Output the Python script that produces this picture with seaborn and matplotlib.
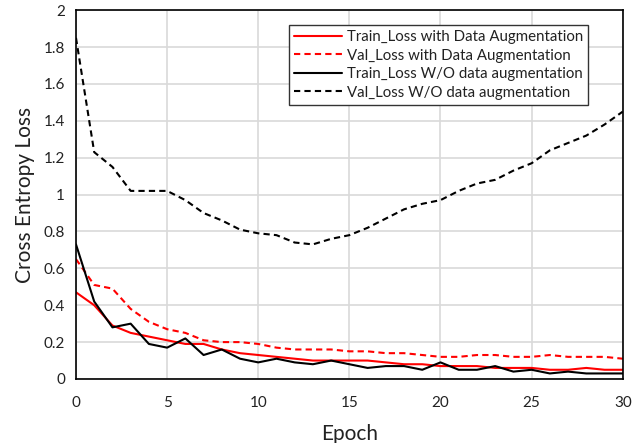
import numpy as np
import pandas as pd
import matplotlib
matplotlib.use("Agg")
import matplotlib.pyplot as plt
import seaborn as sns

epochs = list(range(31))
train_da = [0.47, 0.40, 0.29, 0.25, 0.23, 0.21, 0.19, 0.19, 0.16, 0.14, 0.13,
            0.12, 0.11, 0.10, 0.10, 0.10, 0.10, 0.09, 0.08, 0.08, 0.07,
            0.07, 0.07, 0.06, 0.06, 0.06, 0.05, 0.05, 0.06, 0.05, 0.05]
val_da = [0.65, 0.51, 0.49, 0.38, 0.31, 0.27, 0.25, 0.21, 0.20, 0.20, 0.19,
          0.17, 0.16, 0.16, 0.16, 0.15, 0.15, 0.14, 0.14, 0.13, 0.12,
          0.12, 0.13, 0.13, 0.12, 0.12, 0.13, 0.12, 0.12, 0.12, 0.11]
train_wo = [0.73, 0.42, 0.28, 0.30, 0.19, 0.17, 0.22, 0.13, 0.16, 0.11, 0.09,
            0.11, 0.09, 0.08, 0.10, 0.08, 0.06, 0.07, 0.07, 0.05, 0.09,
            0.05, 0.05, 0.07, 0.04, 0.05, 0.03, 0.04, 0.03, 0.03, 0.03]
val_wo = [1.85, 1.23, 1.15, 1.02, 1.02, 1.02, 0.97, 0.90, 0.86, 0.81, 0.79,
          0.78, 0.74, 0.73, 0.76, 0.78, 0.82, 0.87, 0.92, 0.95, 0.97,
          1.02, 1.06, 1.08, 1.13, 1.17, 1.24, 1.28, 1.32, 1.38, 1.45]

labels = ["Train_Loss with Data Augmentation", "Val_Loss with Data Augmentation",
          "Train_Loss W/O data augmentation", "Val_Loss W/O data augmentation"]
series = [train_da, val_da, train_wo, val_wo]
colors = ["#ff0000", "#ff0000", "#000000", "#000000"]
styles = ["-", (0, (3, 2)), "-", (0, (3, 2))]

sns.set_theme(style="whitegrid")
plt.rcParams['font.family'] = ['Lato', 'DejaVu Sans']

fig = plt.figure(figsize=(6.44, 4.43), dpi=100)
ax = fig.add_axes([0.118, 0.1445, 0.849, 0.8325])

for lab, vals, c, ls in zip(labels, series, colors, styles):
    df = pd.DataFrame({"Epoch": epochs, "Loss": vals})
    sns.lineplot(data=df, x="Epoch", y="Loss", ax=ax, color=c, linestyle=ls,
                 linewidth=1.5, label=lab)

ax.set_xlim(0, 30)
ax.set_ylim(0, 2)
ax.set_xticks(range(0, 31, 5))
yt = [i * 0.2 for i in range(11)]
ax.set_yticks(yt)
ax.set_yticklabels(["0", "0.2", "0.4", "0.6", "0.8", "1", "1.2", "1.4", "1.6", "1.8", "2"])
ax.tick_params(axis='both', labelsize=11, colors="#222222", length=0)
ax.tick_params(axis='x', pad=12)
ax.tick_params(axis='y', pad=8)
ax.grid(True, color="#d9d9d9", linewidth=1.2)
ax.set_facecolor("white")
for s in ax.spines.values():
    s.set_color("black")
    s.set_linewidth(1.2)
ax.set_xlabel("Epoch", fontsize=15, color="#222222", labelpad=10)
ax.set_ylabel("Cross Entropy Loss", fontsize=15, color="#222222", labelpad=6)

leg = ax.legend(loc="upper right", bbox_to_anchor=(0.937, 0.96), fontsize=10.8,
                frameon=True, fancybox=False, framealpha=1, borderpad=0.35,
                handlelength=3.2, labelspacing=0.3, handletextpad=0.3,
                borderaxespad=0)
leg.get_frame().set_edgecolor("#333333")
leg.get_frame().set_linewidth(1.0)
for t in leg.get_texts():
    t.set_color("#222222")

fig.savefig("out.png", dpi=100, facecolor="white")
